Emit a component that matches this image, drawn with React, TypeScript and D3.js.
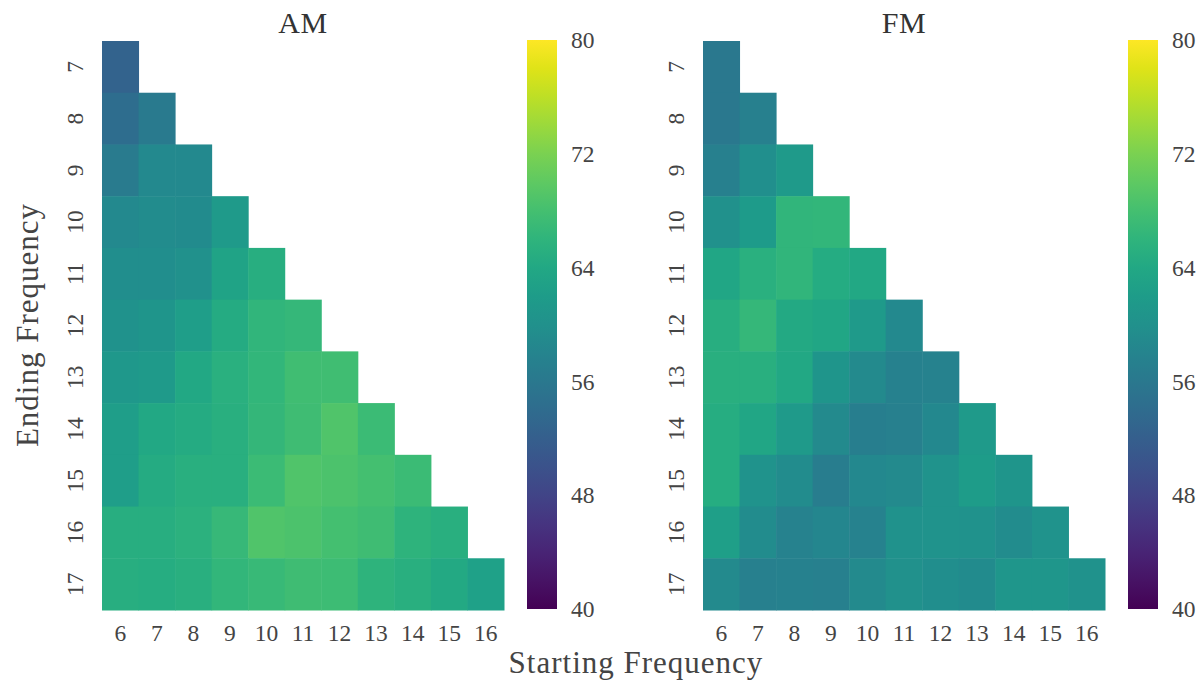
import React from "react";
import * as d3 from "d3";

// Starting frequency (columns) and ending frequency (rows)
const startFreqs = [6, 7, 8, 9, 10, 11, 12, 13, 14, 15, 16];
const endFreqs = [7, 8, 9, 10, 11, 12, 13, 14, 15, 16, 17];
const colorTicks = [40, 48, 56, 64, 72, 80];

// AM values, one row per ending frequency (only start < end)
const amRows: number[][] = [
  [52.5],
  [54.2, 56.4],
  [56.5, 58.9, 58.8],
  [58.9, 59.3, 59.2, 61.6],
  [59.6, 59.6, 60.0, 63.2, 65.0],
  [60.2, 60.8, 62.2, 64.5, 66.2, 66.6],
  [61.4, 61.6, 64.0, 65.4, 66.4, 67.8, 67.8],
  [62.2, 64.0, 64.5, 65.2, 66.5, 67.5, 69.0, 67.3],
  [62.3, 64.4, 65.3, 65.2, 67.3, 69.0, 68.7, 68.0, 67.3],
  [65.0, 65.0, 65.5, 66.8, 69.0, 68.7, 68.0, 67.6, 65.8, 65.3],
  [65.0, 64.8, 65.3, 66.4, 66.9, 67.6, 67.4, 65.8, 65.3, 64.2, 62.8],
];

// FM values
const fmRows: number[][] = [
  [56.0],
  [56.0, 57.2],
  [57.2, 59.8, 61.6],
  [60.0, 61.8, 66.2, 66.4],
  [63.6, 65.4, 66.2, 64.6, 64.0],
  [65.0, 66.6, 64.2, 63.6, 61.6, 58.8],
  [65.3, 65.2, 64.0, 60.8, 59.0, 57.4, 57.5],
  [64.7, 63.6, 61.6, 59.0, 57.0, 57.2, 58.7, 61.6],
  [64.8, 60.5, 59.3, 56.8, 58.6, 59.0, 60.5, 62.0, 60.8],
  [62.4, 59.3, 57.5, 58.4, 57.6, 60.2, 60.6, 60.3, 59.3, 60.6],
  [59.0, 57.3, 57.4, 57.3, 59.0, 60.0, 59.6, 59.2, 61.0, 61.0, 60.3],
];

const titles = ["AM", "FM"];
const xLabel = "Starting Frequency";
const yLabel = "Ending Frequency";

const FONT = "'Liberation Serif', 'Times New Roman', serif";
const TEXT = "#444";

const color = d3.scaleSequential(d3.interpolateViridis).domain([40, 80]);

function Panel({ rows, title, x0 }: { rows: number[][]; title: string; x0: number }) {
  const top = 41;
  const bottom = 610;
  const width = 402;
  const x = d3.scaleBand<number>().domain(startFreqs).range([x0, x0 + width]);
  const y = d3.scaleBand<number>().domain(endFreqs).range([top, bottom]);
  const cbX = x0 + width + 23;
  const cbW = 30;
  const cbY = d3.scaleLinear().domain([40, 80]).range([609, 40]);
  const gradId = `grad-${title}`;
  const stops = d3.range(0, 1.0001, 0.05);
  return (
    <g>
      <defs>
        <linearGradient id={gradId} x1="0" y1="1" x2="0" y2="0">
          {stops.map((t) => (
            <stop key={t} offset={t} stopColor={d3.interpolateViridis(t)} />
          ))}
        </linearGradient>
      </defs>
      {rows.map((vals, ri) =>
        vals.map((v, ci) => (
          <rect
            key={`${ri}-${ci}`}
            x={x(startFreqs[ci])!}
            y={y(endFreqs[ri])!}
            width={x.bandwidth() + 0.5}
            height={y.bandwidth() + 0.5}
            fill={color(v)}
          />
        ))
      )}
      <text
        x={x0 + width / 2}
        y={33}
        textAnchor="middle"
        fontFamily={FONT}
        fontSize={30}
        letterSpacing={0.5}
        fill="#333"
      >
        {title}
      </text>
      {startFreqs.map((s) => (
        <text
          key={s}
          x={x(s)! + x.bandwidth() / 2}
          y={641}
          textAnchor="middle"
          fontFamily={FONT}
          fontSize={23.5}
          fill={TEXT}
        >
          {s}
        </text>
      ))}
      {endFreqs.map((e) => (
        <text
          key={e}
          transform={`translate(${x0 - 19},${y(e)! + y.bandwidth() / 2}) rotate(-90)`}
          textAnchor="middle"
          fontFamily={FONT}
          fontSize={23.5}
          fill={TEXT}
        >
          {e}
        </text>
      ))}
      <rect x={cbX} y={40} width={cbW} height={569} fill={`url(#${gradId})`} />
      {colorTicks.map((t) => (
        <text
          key={t}
          x={cbX + cbW + 14}
          y={cbY(t)}
          dy="0.35em"
          fontFamily={FONT}
          fontSize={23.5}
          fill={TEXT}
        >
          {t}
        </text>
      ))}
    </g>
  );
}

export default function App() {
  return (
    <svg
      width={1204}
      height={682}
      style={{ position: "absolute", left: 0, top: 0, background: "#fff" }}
    >
      <rect x={0} y={0} width={1204} height={682} fill="#fff" />
      <Panel rows={amRows} title={titles[0]} x0={102} />
      <Panel rows={fmRows} title={titles[1]} x0={703} />
      <text
        x={636}
        y={673}
        textAnchor="middle"
        fontFamily={FONT}
        fontSize={31}
        letterSpacing={1}
        fill={TEXT}
      >
        {xLabel}
      </text>
      <text
        transform={`translate(38,325) rotate(-90)`}
        textAnchor="middle"
        fontFamily={FONT}
        fontSize={31}
        letterSpacing={1}
        fill={TEXT}
      >
        {yLabel}
      </text>
    </svg>
  );
}
